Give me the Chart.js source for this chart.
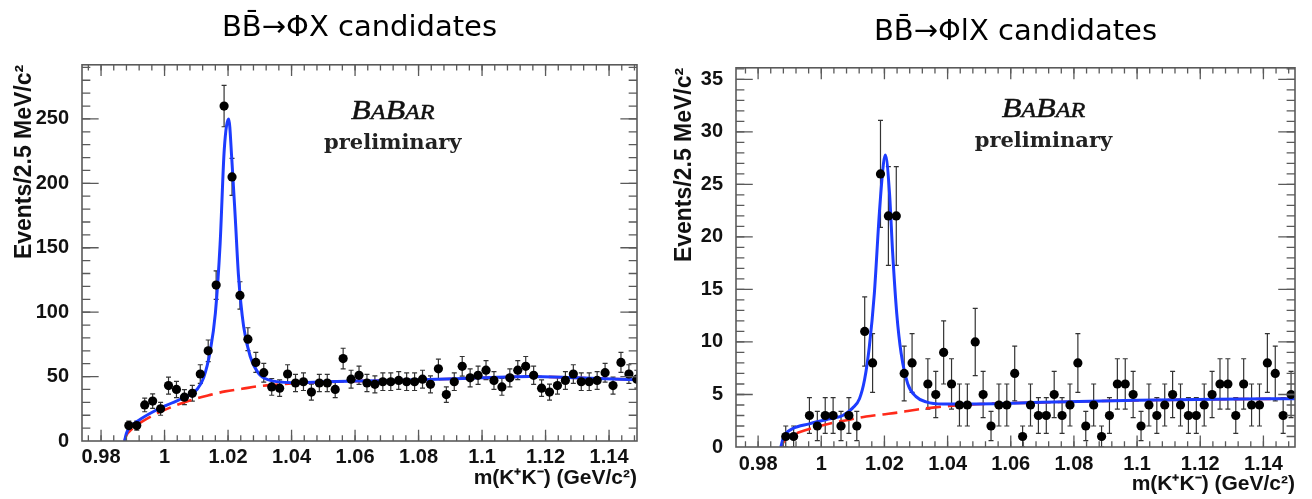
<!DOCTYPE html>
<html>
<head>
<meta charset="utf-8">
<script src="https://cdn.jsdelivr.net/npm/chart.js@4.4.1/dist/chart.umd.min.js"></script>
<style>
  html, body { margin: 0; padding: 0; background: #fff; }
  #wrap { position: relative; width: 1312px; height: 499px; overflow: hidden; }
  canvas { position: absolute; top: 0; }
  #phi-all { left: 0; }
  #phi-lep { left: 656px; }
</style>
</head>
<body>
<div id="wrap">
  <canvas id="phi-all" width="656" height="499"></canvas>
  <canvas id="phi-lep" width="656" height="499"></canvas>
</div>
<script>
// Centros dos bins de m(K+K-) em GeV/c2 (bins de 2.5 MeV)
const massBins = [
  0.98875, 0.99125, 0.99375, 0.99625, 0.99875, 1.00125, 1.00375, 1.00625, 1.00875, 1.01125,
  1.01375, 1.01625, 1.01875, 1.02125, 1.02375, 1.02625, 1.02875, 1.03125, 1.03375, 1.03625,
  1.03875, 1.04125, 1.04375, 1.04625, 1.04875, 1.05125, 1.05375, 1.05625, 1.05875, 1.06125,
  1.06375, 1.06625, 1.06875, 1.07125, 1.07375, 1.07625, 1.07875, 1.08125, 1.08375, 1.08625,
  1.08875, 1.09125, 1.09375, 1.09625, 1.09875, 1.10125, 1.10375, 1.10625, 1.10875, 1.11125,
  1.11375, 1.11625, 1.11875, 1.12125, 1.12375, 1.12625, 1.12875, 1.13125, 1.13375, 1.13625,
  1.13875, 1.14125, 1.14375, 1.14625, 1.14875,
];

// BB -> phi X : eventos por bin e barras de erro
const allCounts = [
  12, 12, 28, 31, 25, 43, 40, 34, 37, 52,
  70, 121, 260, 205, 113, 79, 61, 53, 42, 41,
  52, 45, 46, 38, 45, 45, 40, 64, 48, 51,
  45, 44, 46, 46, 47, 46, 46, 48, 44, 56,
  36, 46, 58, 49, 51, 55, 47, 42, 49, 55,
  58, 51, 41, 38, 43, 47, 52, 46, 46, 47,
  53, 43, 61, 52, 48,
];
const allErrors = [
  3.5, 3.5, 5.3, 5.6, 5.0, 6.6, 6.3, 5.8, 6.1, 7.2,
  8.4, 11.0, 16.1, 14.3, 10.6, 8.9, 7.8, 7.3, 6.5, 6.4,
  7.2, 6.7, 6.8, 6.2, 6.7, 6.7, 6.3, 8.0, 6.9, 7.1,
  6.7, 6.6, 6.8, 6.8, 6.9, 6.8, 6.8, 6.9, 6.6, 7.5,
  6.0, 6.8, 7.6, 7.0, 7.1, 7.4, 6.9, 6.5, 7.0, 7.4,
  7.6, 7.1, 6.4, 6.2, 6.6, 6.9, 7.2, 6.8, 6.8, 6.9,
  7.3, 6.6, 7.8, 7.2, 6.9,
];

// BB -> phi l X : eventos por bin (null = bin vazio)
const lepCounts = [
  1, 1, null, 3, 2, 3, 3, 2, 3, 2,
  11, 8, 26, 22, 22, 7, 8, null, 6, 5,
  9, 6, 4, 4, 10, 5, 2, 4, 4, 7,
  1, 4, 3, 3, 5, 3, 4, 8, 2, 4,
  1, 3, 6, 6, 5, 2, 4, 3, 4, 5,
  4, 3, 3, 4, 5, 6, 6, 3, 6, 4,
  4, 8, 7, 3, 5,
];
const lepErrors = [
  1.0, 1.0, null, 1.7, 1.4, 1.7, 1.7, 1.4, 1.7, 1.4,
  3.3, 2.8, 5.1, 4.7, 4.7, 2.6, 2.8, null, 2.4, 2.2,
  3.0, 2.4, 2.0, 2.0, 3.2, 2.2, 1.4, 2.0, 2.0, 2.6,
  1.0, 2.0, 1.7, 1.7, 2.2, 1.7, 2.0, 2.8, 1.4, 2.0,
  1.0, 1.7, 2.4, 2.4, 2.2, 1.4, 2.0, 1.7, 2.0, 2.2,
  2.0, 1.7, 1.7, 2.0, 2.2, 2.4, 2.4, 1.7, 2.4, 2.0,
  2.0, 2.8, 2.6, 1.7, 2.2,
];

// Curvas do ajuste (total e fundo)
const allFitMass = [0.9874, 0.9880, 0.9892, 0.9918, 0.9970, 1.0023, 1.0076, 1.0102, 1.0123, 1.0144,
  1.0160, 1.0175, 1.0188, 1.0202, 1.0212, 1.0223, 1.0233, 1.0249, 1.0270, 1.0296,
  1.0328, 1.0401, 1.0506, 1.0600, 1.0800, 1.1000, 1.1150, 1.1300, 1.1500];
const allFitValues = [0, 6, 11, 16, 23.5, 29.5, 35.5, 40, 49, 70,
  99, 153, 226, 250, 218, 172, 128, 89, 65.5, 52.5,
  47.4, 45.3, 46, 46.5, 47.5, 49, 50, 49, 47.5];
const allBkgMass = [0.9874, 0.9880, 0.9892, 0.9929, 0.9981, 1.0034, 1.0086, 1.0139, 1.0191, 1.0244,
  1.0296, 1.0349, 1.0401, 1.0506, 1.0600, 1.0800, 1.1000, 1.1150, 1.1300, 1.1500];
const allBkgValues = [0, 4.5, 8, 15, 22, 27.5, 32, 35.5, 38.5, 40.5,
  42.5, 43.7, 44.6, 45.8, 46.5, 47.5, 49, 50, 49, 47.5];

const lepFitMass = [0.9872, 0.9880, 0.9888, 0.9909, 0.9962, 1.0015, 1.0068, 1.0099, 1.0121, 1.0137,
  1.0152, 1.0168, 1.0184, 1.0197, 1.0203, 1.0216, 1.0226, 1.0239, 1.0253, 1.0274,
  1.0300, 1.0332, 1.0385, 1.0491, 1.0700, 1.1000, 1.1250, 1.1500];
const lepFitValues = [0, 0.9, 1.3, 1.75, 2.2, 2.6, 3.0, 3.7, 4.6, 6.4,
  9.5, 14.6, 22.3, 27.0, 27.8, 24.2, 18.5, 12.7, 8.9, 6.0,
  4.8, 4.3, 4.1, 4.1, 4.25, 4.45, 4.55, 4.6];
const lepBkgMass = [0.9872, 0.9888, 0.9930, 0.9983, 1.0036, 1.0089, 1.0142, 1.0195, 1.0248, 1.0300,
  1.0353, 1.0406, 1.0491, 1.0700, 1.1000, 1.1250, 1.1500];
const lepBkgValues = [0, 0.8, 1.4, 1.9, 2.3, 2.6, 2.9, 3.1, 3.3, 3.55,
  3.75, 3.9, 4.07, 4.24, 4.44, 4.54, 4.6];

// Marcas dos eixos
const massTicks = [0.98, 1, 1.02, 1.04, 1.06, 1.08, 1.1, 1.12, 1.14];
const massTickLabels = ['0.98', '1', '1.02', '1.04', '1.06', '1.08', '1.1', '1.12', '1.14'];
const allYTicks = [0, 50, 100, 150, 200, 250];
const lepYTicks = [0, 5, 10, 15, 20, 25, 30, 35];

const tickFont = { family: "'Liberation Sans', Arial, sans-serif", size: 20, weight: 'bold' };
const xTitleFont = { family: "'Liberation Sans', Arial, sans-serif", size: 21, weight: 'bold' };
const yTitleFont = { family: "'Liberation Sans', Arial, sans-serif", size: 23, weight: 'bold' };
const FRAME_COLOR = '#5a5a5a';

// Barras de erro verticais com pequenas "tampas" (estilo ROOT)
const errorBarPlugin = {
  id: 'errorBars',
  beforeDatasetsDraw(chart, args, opts) {
    const { ctx, chartArea } = chart;
    const xs = chart.scales.x;
    const ys = chart.scales.y;
    ctx.save();
    ctx.beginPath();
    ctx.rect(chartArea.left, chartArea.top, chartArea.width, chartArea.height);
    ctx.clip();
    ctx.strokeStyle = '#333';
    ctx.lineWidth = 1.2;
    opts.counts.forEach((v, i) => {
      if (v === null) return;
      const e = opts.errors[i];
      const x = xs.getPixelForValue(massBins[i]);
      const yTop = ys.getPixelForValue(v + e);
      const yBot = ys.getPixelForValue(Math.max(v - e, 0));
      ctx.beginPath();
      ctx.moveTo(x, yTop);
      ctx.lineTo(x, yBot);
      ctx.moveTo(x - 2.5, yTop);
      ctx.lineTo(x + 2.5, yTop);
      ctx.moveTo(x - 2.5, yBot);
      ctx.lineTo(x + 2.5, yBot);
      ctx.stroke();
    });
    ctx.restore();
  },
};

// Moldura com marcas para dentro nos quatro lados
function drawTicks(ctx, scale, values, len, area, horizontal) {
  values.forEach((v) => {
    const p = scale.getPixelForValue(v);
    ctx.beginPath();
    if (horizontal) {
      if (p < area.left + 1 || p > area.right - 1) return;
      ctx.moveTo(p, area.bottom); ctx.lineTo(p, area.bottom - len);
      ctx.moveTo(p, area.top); ctx.lineTo(p, area.top + len);
    } else {
      if (p < area.top + 1 || p > area.bottom - 1) return;
      ctx.moveTo(area.left, p); ctx.lineTo(area.left + len, p);
      ctx.moveTo(area.right, p); ctx.lineTo(area.right - len, p);
    }
    ctx.stroke();
  });
}

function stepValues(min, max, step) {
  const out = [];
  const start = Math.ceil(min / step - 1e-9);
  for (let k = start; k * step <= max + 1e-9; k++) out.push(k * step);
  return out;
}

const framePlugin = {
  id: 'rootFrame',
  afterDraw(chart, args, opts) {
    const { ctx, chartArea } = chart;
    const xs = chart.scales.x;
    const ys = chart.scales.y;
    ctx.save();
    ctx.strokeStyle = FRAME_COLOR;
    ctx.lineWidth = 1.3;
    const xLen = chartArea.height * 0.03;
    const yLen = chartArea.width * 0.03;
    drawTicks(ctx, xs, stepValues(xs.min, xs.max, opts.xMinor), xLen / 2, chartArea, true);
    drawTicks(ctx, xs, opts.xMajor, xLen, chartArea, true);
    drawTicks(ctx, ys, stepValues(ys.min, ys.max, opts.yMinor), yLen / 2, chartArea, false);
    drawTicks(ctx, ys, opts.yMajor, yLen, chartArea, false);
    ctx.lineWidth = 1.6;
    ctx.strokeRect(chartArea.left, chartArea.top, chartArea.width, chartArea.height);
    ctx.restore();
  },
};

// Texto "BABAR preliminary"
const babarPlugin = {
  id: 'babar',
  afterDatasetsDraw(chart, args, opts) {
    const { ctx, chartArea } = chart;
    const cx = chartArea.left + chartArea.width * opts.fx;
    const y1 = chartArea.top + chartArea.height * opts.fy;
    const y2 = y1 + 30;
    const parts = [['B', 28], ['A', 21], ['B', 28], ['A', 21], ['R', 21]];
    ctx.save();
    ctx.fillStyle = '#111';
    ctx.strokeStyle = '#111';
    ctx.lineWidth = 0.5;
    ctx.textBaseline = 'alphabetic';
    let w = 0;
    parts.forEach(([ch, size]) => {
      ctx.font = `italic ${size}px 'Liberation Serif', serif`;
      w += ctx.measureText(ch).width;
    });
    const sx = 1.15;
    ctx.translate(cx - (w * sx) / 2, y1);
    ctx.scale(sx, 1);
    let x = 0;
    parts.forEach(([ch, size]) => {
      ctx.font = `italic ${size}px 'Liberation Serif', serif`;
      ctx.fillText(ch, x, 0);
      ctx.strokeText(ch, x, 0);
      x += ctx.measureText(ch).width;
    });
    ctx.restore();
    ctx.save();
    ctx.fillStyle = '#222';
    ctx.font = "bold 21px 'DejaVu Serif', serif";
    ctx.textAlign = 'center';
    ctx.fillText('preliminary', cx, y2);
    ctx.restore();
  },
};

function makePanel(canvasId, cfg) {
  const points = [];
  cfg.counts.forEach((v, i) => {
    if (v !== null) points.push({ x: massBins[i], y: v });
  });
  return new Chart(document.getElementById(canvasId), {
    type: 'scatter',
    data: {
      datasets: [
        {
          label: 'data',
          data: points,
          pointRadius: 4.6,
          pointBackgroundColor: '#000',
          pointBorderWidth: 0,
          order: 0,
        },
        {
          label: 'fit',
          data: cfg.fitMass.map((m, i) => ({ x: m, y: cfg.fitValues[i] })),
          showLine: true,
          pointRadius: 0,
          borderColor: '#1d3cff',
          borderWidth: 3,
          cubicInterpolationMode: 'monotone',
          order: 1,
        },
        {
          label: 'background',
          data: cfg.bkgMass.map((m, i) => ({ x: m, y: cfg.bkgValues[i] })),
          showLine: true,
          pointRadius: 0,
          borderColor: '#ff2a1a',
          borderWidth: 2.6,
          borderDash: [15, 7],
          cubicInterpolationMode: 'monotone',
          order: 2,
        },
      ],
    },
    options: {
      responsive: false,
      animation: false,
      layout: { padding: { left: 0, right: cfg.padRight, top: 0, bottom: 0 } },
      plugins: {
        legend: { display: false },
        tooltip: { enabled: false },
        title: {
          display: true,
          text: cfg.title,
          fullSize: false,
          color: '#000',
          font: { family: "'DejaVu Sans', sans-serif", size: 29, weight: 'normal' },
          padding: cfg.titlePad,
        },
        errorBars: { counts: cfg.counts, errors: cfg.errors },
        rootFrame: { xMajor: massTicks, xMinor: 0.004, yMajor: cfg.yTicks, yMinor: cfg.yMinor },
        babar: { fx: cfg.babarX, fy: cfg.babarY },
      },
      scales: {
        x: {
          type: 'linear',
          min: cfg.xMin,
          max: cfg.xMax,
          grid: { display: false },
          border: { display: false },
          afterBuildTicks: (axis) => { axis.ticks = massTicks.map((v) => ({ value: v })); },
          afterFit: (axis) => { axis.height = cfg.xAxisHeight; },
          ticks: {
            font: tickFont,
            color: '#111',
            padding: cfg.xTickPad,
            maxRotation: 0,
            autoSkip: false,
            callback: (value, index) => massTickLabels[index],
          },
          title: {
            display: true,
            text: 'm(K⁺K⁻) (GeV/c²)',
            align: 'end',
            color: '#111',
            font: xTitleFont,
            padding: { top: 0, bottom: cfg.xTitleBottom },
          },
        },
        y: {
          type: 'linear',
          min: 0,
          max: cfg.yMax,
          grid: { display: false },
          border: { display: false },
          afterBuildTicks: (axis) => { axis.ticks = cfg.yTicks.map((v) => ({ value: v })); },
          afterFit: (axis) => { axis.width = cfg.yAxisWidth; },
          ticks: {
            font: tickFont,
            color: '#111',
            padding: 5,
            autoSkip: false,
            callback: (value) => String(value),
          },
          title: {
            display: true,
            text: 'Events/2.5 MeV/c²',
            align: 'end',
            color: '#111',
            font: yTitleFont,
            padding: { top: cfg.yTitleLeft, bottom: 0 },
          },
        },
      },
    },
    plugins: [errorBarPlugin, framePlugin, babarPlugin],
  });
}

makePanel('phi-all', {
  title: 'BB̄→ΦX candidates',
  titlePad: { top: 11, bottom: 19 },
  counts: allCounts,
  errors: allErrors,
  fitMass: allFitMass,
  fitValues: allFitValues,
  bkgMass: allBkgMass,
  bkgValues: allBkgValues,
  xMin: 0.974,
  xMax: 1.1488,
  yMax: 292,
  yTicks: allYTicks,
  yMinor: 10,
  padRight: 19,
  yAxisWidth: 82,
  xAxisHeight: 58,
  xTickPad: -4,
  xTitleBottom: 8,
  yTitleLeft: 11,
  babarX: 0.56,
  babarY: 0.145,
});

makePanel('phi-lep', {
  title: 'BB̄→ΦlX candidates',
  titlePad: { top: 15, bottom: 18 },
  counts: lepCounts,
  errors: lepErrors,
  fitMass: lepFitMass,
  fitValues: lepFitValues,
  bkgMass: lepBkgMass,
  bkgValues: lepBkgValues,
  xMin: 0.973,
  xMax: 1.150,
  yMax: 36.1,
  yTicks: lepYTicks,
  yMinor: 1,
  padRight: 17,
  yAxisWidth: 80,
  xAxisHeight: 52,
  xTickPad: -3,
  xTitleBottom: 2,
  yTitleLeft: 15,
  babarX: 0.55,
  babarY: 0.13,
});
</script>
</body>
</html>
